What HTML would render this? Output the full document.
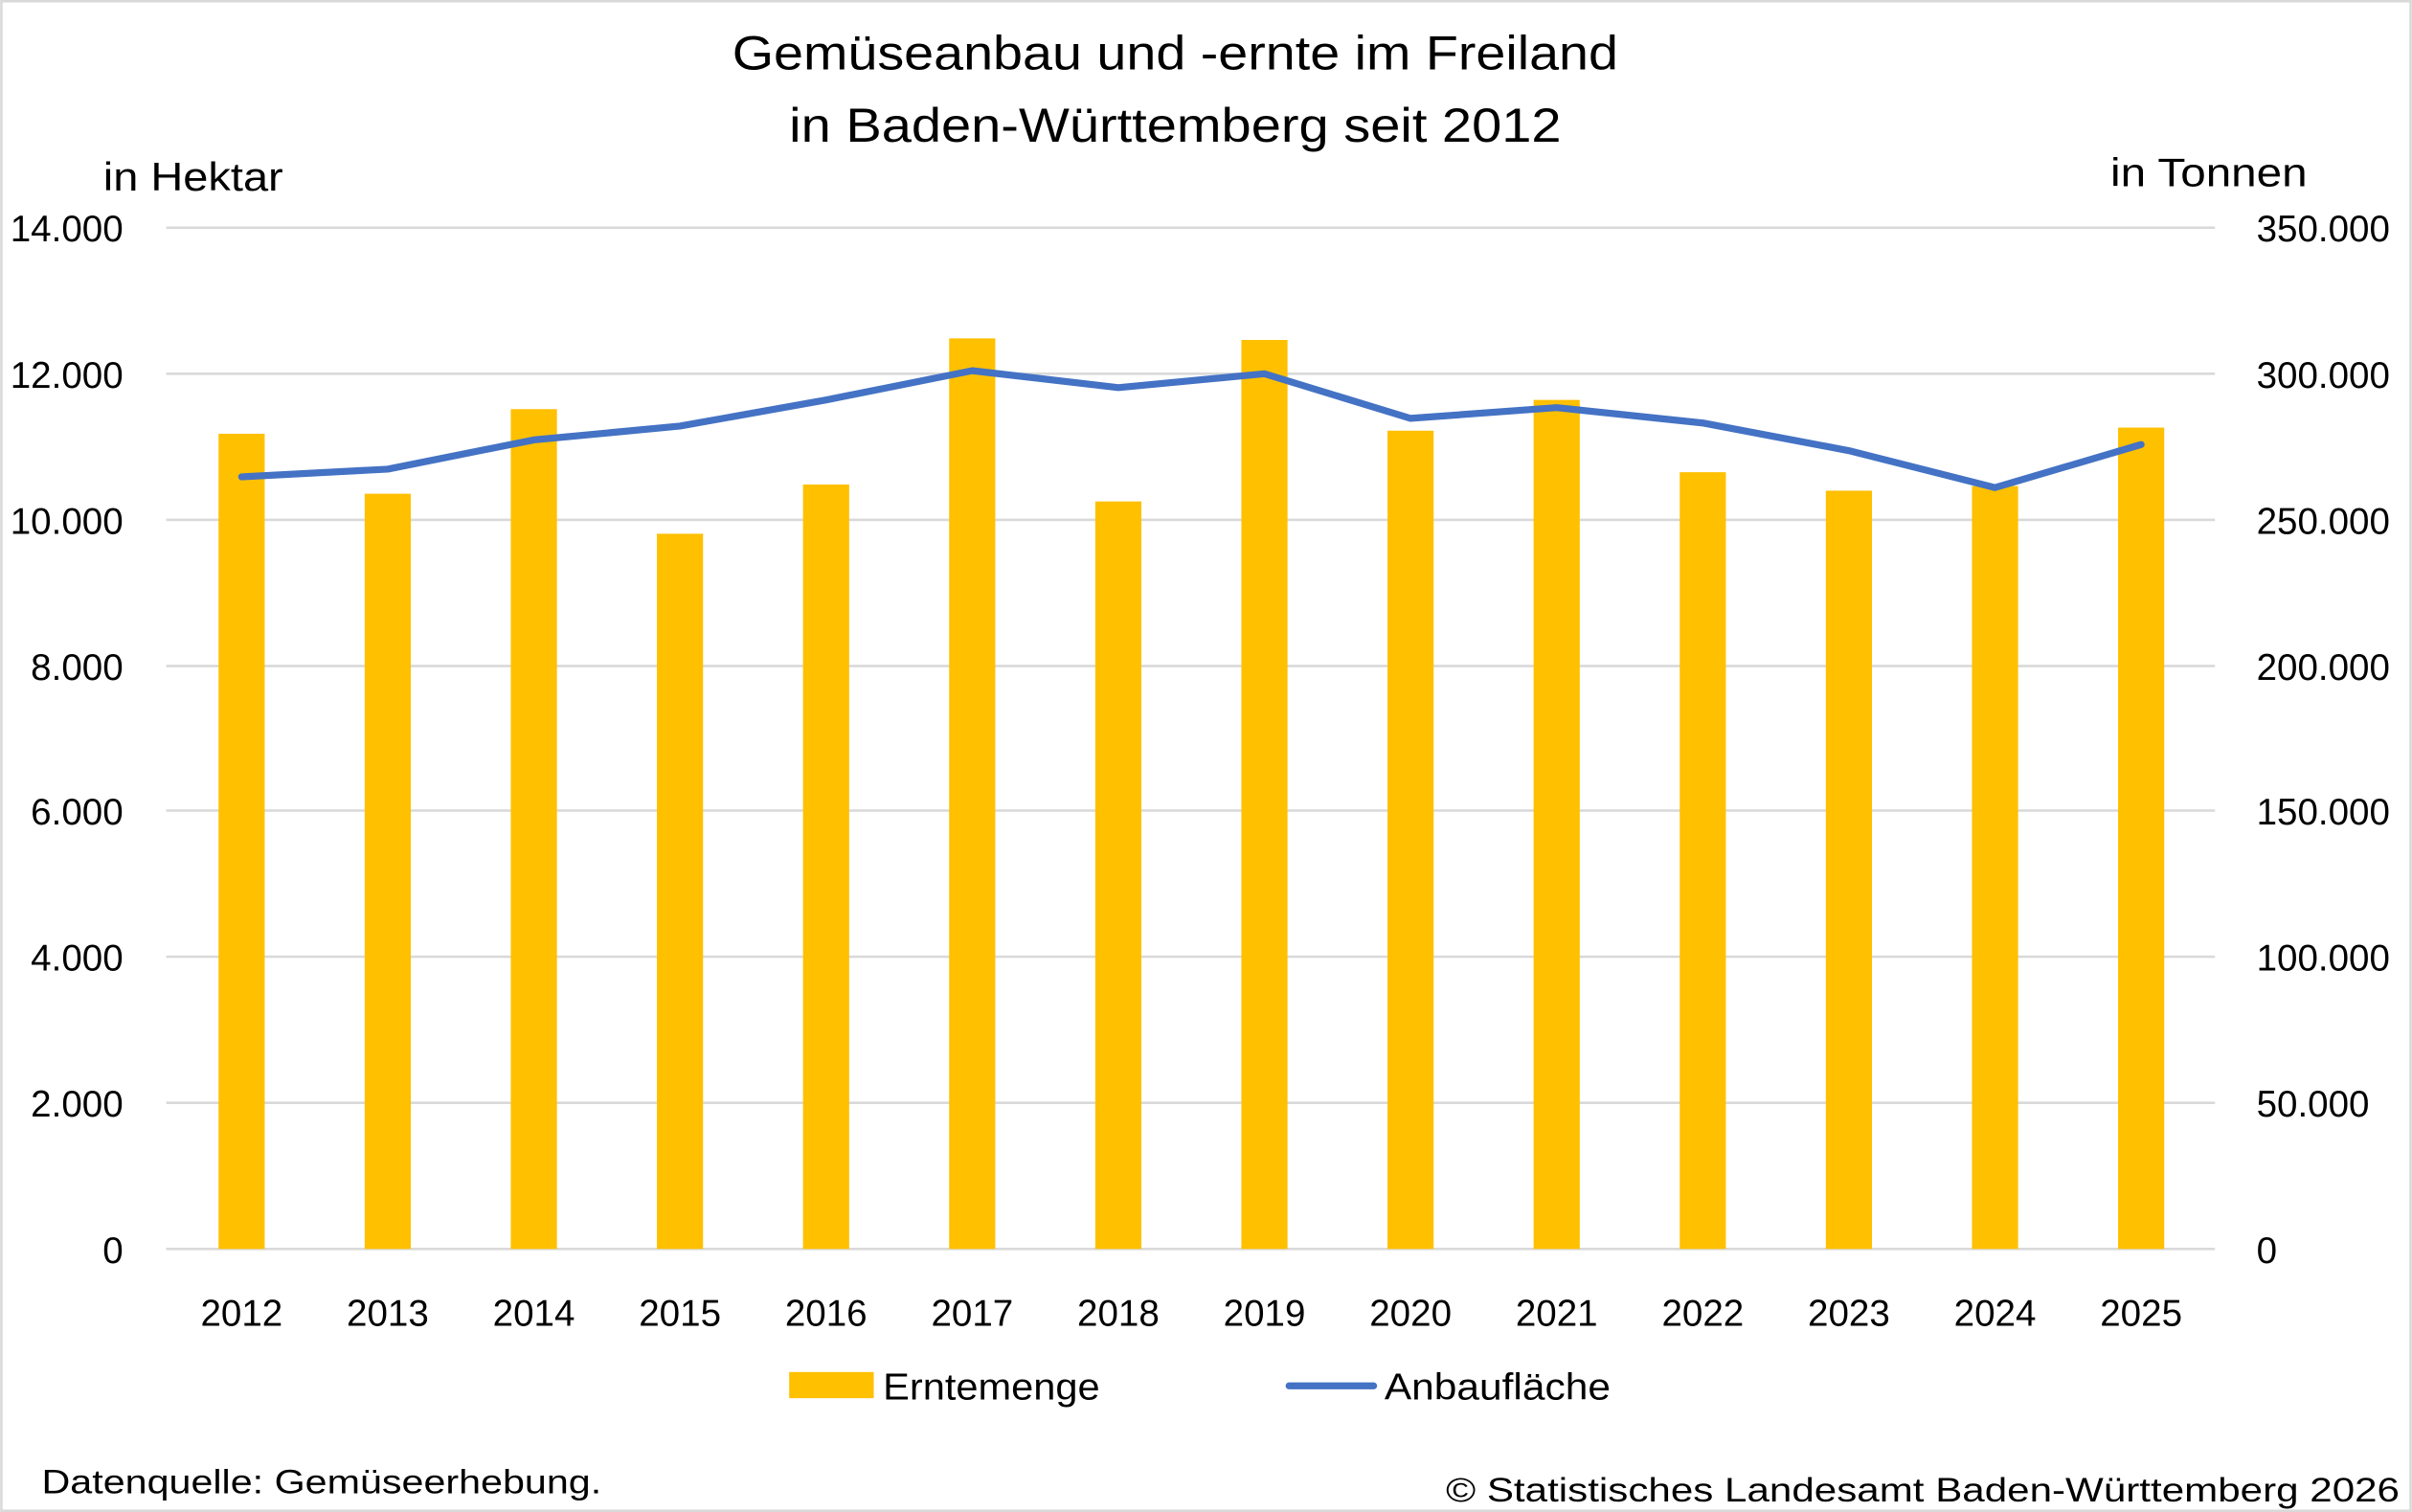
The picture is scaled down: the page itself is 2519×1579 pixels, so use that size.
<!DOCTYPE html>
<html><head><meta charset="utf-8"><style>
html,body{margin:0;padding:0;background:#fff;}
svg{display:block;}
text{font-family:"Liberation Sans",sans-serif;fill:#000;}
</style></head><body>
<svg width="2519" height="1579" viewBox="0 0 1568 983" xmlns="http://www.w3.org/2000/svg">
<rect x="0.8" y="0.8" width="1566.4" height="981.4" fill="#fff" stroke="#d9d9d9" stroke-width="1.6"/>
<text x="476" y="45" font-size="31" textLength="576" lengthAdjust="spacingAndGlyphs">Gemüseanbau und -ernte im Freiland</text>
<text x="513" y="92" font-size="31" textLength="502" lengthAdjust="spacingAndGlyphs">in Baden-Württemberg seit 2012</text>
<text x="67" y="124" font-size="26" textLength="117" lengthAdjust="spacingAndGlyphs">in Hektar</text>
<text x="1372" y="121" font-size="26" textLength="128" lengthAdjust="spacingAndGlyphs">in Tonnen</text>
<g stroke="#d9d9d9" stroke-width="1.6">
<line x1="108" x2="1440" y1="148" y2="148"/>
<line x1="108" x2="1440" y1="243" y2="243"/>
<line x1="108" x2="1440" y1="338" y2="338"/>
<line x1="108" x2="1440" y1="433" y2="433"/>
<line x1="108" x2="1440" y1="527" y2="527"/>
<line x1="108" x2="1440" y1="622" y2="622"/>
<line x1="108" x2="1440" y1="717" y2="717"/>
<line x1="108" x2="1440" y1="812" y2="812"/>
</g>
<g font-size="24" text-anchor="end">
<text x="80" y="157">14.000</text><text x="80" y="252">12.000</text><text x="80" y="347">10.000</text>
<text x="80" y="442">8.000</text><text x="80" y="536">6.000</text><text x="80" y="631">4.000</text>
<text x="80" y="726">2.000</text><text x="80" y="821">0</text>
</g>
<g font-size="24">
<text x="1467" y="157">350.000</text><text x="1467" y="252">300.000</text><text x="1467" y="347">250.000</text>
<text x="1467" y="442">200.000</text><text x="1467" y="536">150.000</text><text x="1467" y="631">100.000</text>
<text x="1467" y="726">50.000</text><text x="1467" y="821">0</text>
</g>
<g fill="#ffc000">
<rect x="142" y="282" width="30" height="530"/>
<rect x="237" y="321" width="30" height="491"/>
<rect x="332" y="266" width="30" height="546"/>
<rect x="427" y="347" width="30" height="465"/>
<rect x="522" y="315" width="30" height="497"/>
<rect x="617" y="220" width="30" height="592"/>
<rect x="712" y="326" width="30" height="486"/>
<rect x="807" y="221" width="30" height="591"/>
<rect x="902" y="280" width="30" height="532"/>
<rect x="997" y="260" width="30" height="552"/>
<rect x="1092" y="307" width="30" height="505"/>
<rect x="1187" y="319" width="30" height="493"/>
<rect x="1282" y="316" width="30" height="496"/>
<rect x="1377" y="278" width="30" height="534"/>
</g>
<polyline fill="none" stroke="#4472c4" stroke-width="4.5" stroke-linejoin="round" stroke-linecap="round"
points="157,310 252,305 347,286 442,277 537,260 632,241 727,252 822,243 917,272 1012,265 1107,275 1202,293 1297,317 1392,289"/>
<g font-size="24" text-anchor="middle">
<text x="157" y="862">2012</text><text x="252" y="862">2013</text><text x="347" y="862">2014</text>
<text x="442" y="862">2015</text><text x="537" y="862">2016</text><text x="632" y="862">2017</text>
<text x="727" y="862">2018</text><text x="822" y="862">2019</text><text x="917" y="862">2020</text>
<text x="1012" y="862">2021</text><text x="1107" y="862">2022</text><text x="1202" y="862">2023</text>
<text x="1297" y="862">2024</text><text x="1392" y="862">2025</text>
</g>
<rect x="513" y="892" width="55" height="17" fill="#ffc000"/>
<text x="574" y="910" font-size="24" textLength="141" lengthAdjust="spacingAndGlyphs">Erntemenge</text>
<line x1="838" x2="893" y1="901" y2="901" stroke="#4472c4" stroke-width="4.5" stroke-linecap="round"/>
<text x="900" y="910" font-size="24" textLength="147" lengthAdjust="spacingAndGlyphs">Anbaufläche</text>
<text x="27" y="971" font-size="22" textLength="364" lengthAdjust="spacingAndGlyphs">Datenquelle: Gemüseerhebung.</text>
<text x="940" y="976" font-size="22" textLength="620" lengthAdjust="spacingAndGlyphs">© Statistisches Landesamt Baden-Württemberg 2026</text>
</svg>
</body></html>
